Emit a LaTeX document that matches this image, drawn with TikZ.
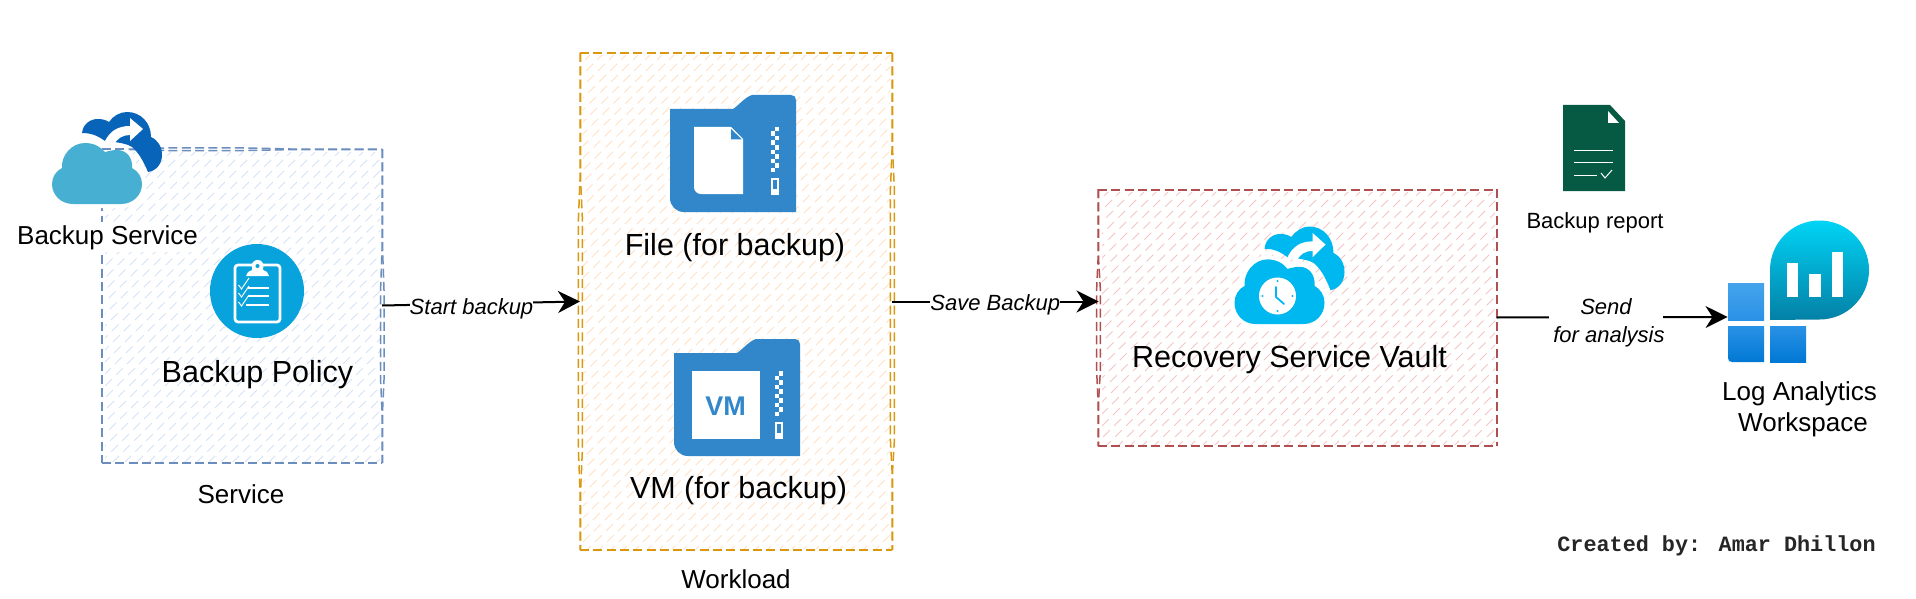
\documentclass[tikz,border=0pt]{standalone}
\usepackage{fontspec}
\setmainfont{Liberation Sans}
\newfontfamily\credfont{Liberation Mono}
\usetikzlibrary{arrows.meta,calc}
\definecolor{svcline}{HTML}{6C8EBF}
\definecolor{svchatch}{HTML}{D4E2F8}
\definecolor{wlline}{HTML}{D9980F}
\definecolor{wlhatch}{HTML}{FFE0C2}
\definecolor{vaultline}{HTML}{B04F4F}
\definecolor{vaulthatch}{HTML}{F6C6C6}
\definecolor{folderblue}{HTML}{3187C9}
\definecolor{policyblue}{HTML}{08A2DC}
\definecolor{cloudpale}{HTML}{47AFD2}
\definecolor{clouddark}{HTML}{0764B8}
\definecolor{vaultcloud}{HTML}{00B8F0}
\definecolor{reportgreen}{HTML}{065A44}
\definecolor{latop}{HTML}{45A3EC}
\definecolor{lamid}{HTML}{2A92E6}
\definecolor{labot}{HTML}{0078D4}
\definecolor{bubtop}{HTML}{00D4F5}
\definecolor{bubbot}{HTML}{0480A6}
\tikzset{
  boxarea/.style={inner sep=0pt,outer sep=0pt},
  sketchline/.style={line width=1.5pt,dash pattern=on 9pt off 4.3pt},
  conn/.style={draw=black,line width=2pt,-{Stealth[length=22pt,width=22pt,inset=7pt]}},
  edgelabel/.style={fill=white,inner xsep=0pt,inner ysep=0pt,font=\fontsize{22}{28}\selectfont\itshape,text=black},
  biglabel/.style={anchor=base,inner sep=0pt,font=\fontsize{30.5}{36}\selectfont,text=black},
  midlabel/.style={anchor=base,inner sep=0pt,font=\fontsize{26}{31}\selectfont,text=black},
  smalllabel/.style={anchor=base,inner sep=0pt,font=\fontsize{22}{26}\selectfont,text=black},
}
% x0 y0 x1 y1 colour
\newcommand\hatchfill[5]{%
  \begin{scope}
    \clip (#1+3,#2+3) rectangle (#3-2,#4-2);
    \pgfmathtruncatemacro\hstart{#1+#2}
    \pgfmathtruncatemacro\hnext{#1+#2+12}
    \pgfmathtruncatemacro\hend{#3+#4}
    \foreach \c in {\hstart,\hnext,...,\hend}
      \draw[#5,line width=1pt,dash pattern=on 9.5pt off 6pt] ({\c-#2},#2) -- ({\c-#4},#4);
  \end{scope}}
% back colour, front colour, code in between
\newcommand\cloudicon[3]{%
  \fill[#1] (82,133) .. controls (83,124) and (90,119) .. (98,119)
    .. controls (102,119) and (106,120) .. (109,122)
    .. controls (113,116) and (120,112) .. (127,112)
    .. controls (141,112) and (151,123) .. (151,137)
    .. controls (158,140) and (162,147) .. (162,155)
    .. controls (162,164) and (156,171) .. (148,172)
    .. controls (143,160) and (138,152) .. (132,147)
    .. controls (126,143) and (115,142) .. (105,141)
    .. controls (97,135) and (90,133) .. (82,133) -- cycle;
  \def\frontpath{(73,204) -- (121,204) .. controls (133,204) and (142,195) .. (142,184)
    .. controls (142,177) and (138,171) .. (132,168)
    .. controls (133,157) and (126,150) .. (117,150)
    .. controls (113,150) and (109,151) .. (105,152)
    .. controls (101,147) and (94,143) .. (85,143)
    .. controls (72,143) and (61,155) .. (62,168)
    .. controls (56,171) and (52,177) .. (52,184)
    .. controls (52,195) and (61,204) .. (73,204) -- cycle}
  \draw[white,line width=8pt] \frontpath;
  \fill[white] (105,141) .. controls (110,131) and (118,126) .. (130,126)
    -- (130,118) -- (143,129) -- (130,141) -- (130,135)
    .. controls (123,135) and (117,138) .. (114,145) -- cycle;
  #3
  \fill[#2] \frontpath;
}
\newcommand\foldericon[1]{%
  \fill[folderblue] (670,109) -- (733,109) .. controls (738,106) and (745,97) .. (752,95)
    -- (791,95) .. controls (794,95) and (796,97) .. (796,100)
    -- (796,212) -- (684,212) .. controls (676,212) and (670,206) .. (670,198) -- cycle;
  \foreach \i in {0,...,9}{
    \pgfmathsetmacro\zy{127+4.5*\i}
    \pgfmathsetmacro\zx{mod(\i,2)==0?775:771}
    \fill[white] (\zx,\zy) rectangle (\zx+4,\zy+4.5);
  }
  \fill[white] (771,178) rectangle (779,195);
  \fill[folderblue] (773,180) rectangle (777,189);
  #1
}
\begin{document}
\begin{tikzpicture}[x=1pt,y=-1pt]
\useasboundingbox (0,0) rectangle (1916,599);
\fill[white] (0,0) rectangle (1916,599);

% ---- container areas
\node[boxarea,minimum width=280pt,minimum height=314pt] (svc) at (242,305.5) {};
\node[boxarea,minimum width=312pt,minimum height=497pt] (wl) at (736,301.5) {};
\node[boxarea,minimum width=398pt,minimum height=257pt] (vault) at (1297.5,317.5) {};

\hatchfill{102}{149}{382}{463}{svchatch}
\hatchfill{580}{53}{892}{550}{wlhatch}
\hatchfill{1099}{189}{1497}{446}{vaulthatch}

% blue border: each side is two strokes from the same corner, parting along a stretch
\begin{scope}[svcline,sketchline]
\draw (102,149.6) -- (140,149.6) -- (170,150.6) -- (240,150.6) -- (290,149.6) -- (382,149.6);
\draw (102,149) -- (140,149) -- (170,147.8) -- (240,147.8) -- (290,149) -- (382,149);
\draw (382,149) -- (382,250) -- (380.6,290) -- (380.6,380) -- (382,410) -- (382,463);
\draw (382.6,149) -- (382.6,250) -- (384,290) -- (384,380) -- (382.6,410) -- (382.6,463);
\draw (102,463) -- (382,463);
\draw (102,463.6) -- (382,463.6);
\draw (102,149) -- (102,463);
\draw (102.6,149) -- (102.6,463);
\end{scope}
% orange border
\begin{scope}[wlline,sketchline]
\draw (580,53) -- (892,53);
\draw (580,53.6) -- (892,53.6);
\draw (892,53) -- (892,150) -- (890.4,190) -- (890.4,440) -- (892,470) -- (892,550);
\draw (892.6,53) -- (892.6,150) -- (894.4,190) -- (894.4,440) -- (892.6,470) -- (892.6,550);
\draw (580,550) -- (892,550);
\draw (580,550.6) -- (892,550.6);
\draw (580,53) -- (580,180) -- (578.4,220) -- (578.4,450) -- (580,490) -- (580,550);
\draw (580.6,53) -- (580.6,180) -- (582.4,220) -- (582.4,450) -- (580.6,490) -- (580.6,550);
\end{scope}
% red border
\begin{scope}[vaultline,sketchline]
\draw (1098,189.5) -- (1497,189.5);
\draw (1098,190) -- (1497,190);
\draw (1497,189) -- (1497,446);
\draw (1497.6,189) -- (1497.6,446);
\draw (1098,446) -- (1497,446);
\draw (1098,446.6) -- (1497,446.6);
\draw (1098,189) -- (1098,260) -- (1096.6,290) -- (1096.6,370) -- (1098,400) -- (1098,446);
\draw (1098.6,189) -- (1098.6,260) -- (1100.4,290) -- (1100.4,370) -- (1098.6,400) -- (1098.6,446);
\end{scope}

% ---- backup service icon and its label
\node[midlabel,fill=white,inner xsep=1pt,inner ysep=3pt] (bslabel) at (107.5,244) {Backup Service};
\cloudicon{clouddark}{cloudpale}{\draw[svcline,sketchline] (102,149) -- (125,149);}

% ---- policy icon
\node[circle,fill=policyblue,minimum size=94pt,inner sep=0pt] (policy) at (257,291) {};
\draw[white,line width=2.7pt,rounded corners=3pt] (235,265) rectangle (280,322);
\fill[white] (246,276) -- (248,272) -- (252,270) -- (252,268) arc[start angle=200,end angle=-20,radius=6pt] -- (263,270) -- (267,272) -- (269,276) -- cycle;
\fill[policyblue] (257.5,266) circle[radius=2pt];
\foreach \yy in {287,295,304}{
  \draw[white,line width=1pt] (238.5,\yy-2) -- (241.5,\yy+2) -- (249,\yy-9);
}
\draw[white,line width=1.6pt] (248,288) -- (269,288);
\draw[white,line width=1.6pt] (248,296) -- (269,296);
\draw[white,line width=2pt] (245.5,304.5) -- (269,304.5);
\node[biglabel] (policytext) at (257.5,382) {Backup Policy};
\node[midlabel] (svctext) at (241,503) {Service};

% ---- folders
\foldericon{
  \fill[white] (694,127) -- (731,127) -- (743,139) -- (743,194) -- (701,194)
    .. controls (697,194) and (694,191) .. (694,187) -- cycle;
  \fill[folderblue] (731,129) -- (742,139.5) -- (731,139.5) -- cycle;
}
\node[biglabel] (filetext) at (735,255) {File (for backup)};
\begin{scope}[shift={(4,244)}]
\foldericon{
  \fill[white] (688,127) rectangle (756,195);
  \node[inner sep=0pt,text=folderblue,font=\fontsize{27}{30}\selectfont\bfseries] (vmtext) at (721.7,162) {VM};
}
\end{scope}
\node[biglabel] (vmlabel) at (738.5,498) {VM (for backup)};
\node[midlabel] (wltext) at (736,588) {Workload};

% ---- vault icon
\begin{scope}[shift={(1182.5,288)},yscale=1.06]
\begin{scope}[shift={(0,-170)}]
\cloudicon{vaultcloud}{vaultcloud}{}
\end{scope}
\end{scope}
\node[circle,fill=white,minimum size=37pt,inner sep=0pt] (clock) at (1277.5,296) {};
\draw[vaultcloud,line width=1.8pt,line cap=round,line join=round] (1276,287) -- (1276,297) -- (1284,304);
\foreach \dx/\dy in {0/-15,15/0,0/15,-15/0}
  \fill[vaultcloud] ($(clock)+(\dx,\dy)$) circle[radius=1.2pt];
\node[biglabel] (vaulttext) at (1289.5,367) {Recovery Service Vault};

% ---- report icon
\fill[reportgreen] (1563,105) -- (1610,105) -- (1625,121) -- (1625,191) -- (1563,191) -- cycle;
\fill[white] (1608,111) -- (1619,123) -- (1608,123) -- cycle;
\draw[white,line width=1pt] (1574,150) -- (1613,150);
\draw[white,line width=1pt] (1574,162) -- (1613,162);
\draw[white,line width=1pt] (1574,175) -- (1597,175);
\draw[white,line width=1pt] (1601,173) -- (1605,178) -- (1612,170);
\node[smalllabel] (reporttext) at (1595,228) {Backup report};

% ---- log analytics icon
\shade[top color=latop,bottom color=lamid] (1728,283) rectangle (1764,320);
\shade[top color=lamid,bottom color=labot] (1728,326) -- (1764,326) -- (1764,362) -- (1732,362) .. controls (1729.5,362) and (1728,360.5) .. (1728,358) -- cycle;
\shade[top color=lamid,bottom color=labot] (1770,326) rectangle (1806,362);
\shade[top color=bubtop,bottom color=bubbot] (1770,320) -- (1770,270) arc[start angle=180,end angle=-90,radius=49.5pt] -- cycle;
\fill[white] (1787,263) rectangle (1798,297);
\fill[white] (1809,274) rectangle (1821,297);
\fill[white] (1832,252) rectangle (1843,297);
\coordinate (laport) at (1727.5,317);
\node[midlabel,align=center] (latext) at (1799.5,431) {Log Analytics\\\hspace*{7pt}Workspace};

% ---- connectors
\draw[conn] (svc.east) -- node[edgelabel,pos=.452,yshift=-5pt] (startl) {Start backup} (wl.west);
\draw[conn] (wl.east) -- node[edgelabel,pos=.5,yshift=-3pt] (savel) {Save Backup} (vault.west |- wl.east);
\draw[conn] (vault.east) -- node[edgelabel,align=center,pos=.474,yshift=-5.5pt,inner xsep=-2pt] (sendl) {Send\\\hspace*{6pt}for analysis} (laport);

\node[anchor=base,inner sep=0pt,font=\fontsize{21.8}{26}\selectfont\credfont\bfseries,text=black!85] (credit) at (1716.5,551) {Created by: Amar Dhillon};
\end{tikzpicture}
\end{document}
